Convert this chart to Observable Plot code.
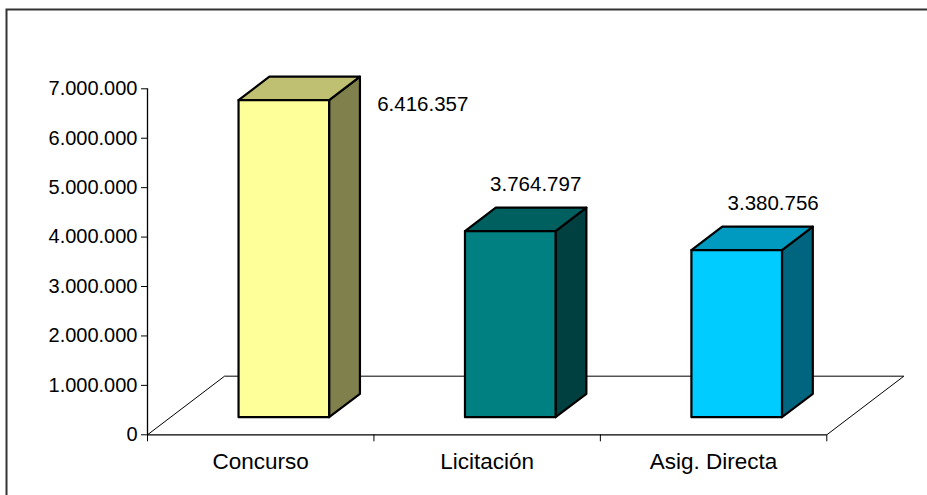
<!DOCTYPE html>
<html>
<head>
<meta charset="utf-8">
<script src="https://cdn.jsdelivr.net/npm/d3@7"></script>
<script src="https://cdn.jsdelivr.net/npm/@observablehq/plot@0.6"></script>
<style>
  html, body { margin: 0; padding: 0; background: #fff; }
  #chart { width: 927px; height: 495px; overflow: hidden; }
</style>
</head>
<body>
<div id="chart"></div>
<script>
// ---- data ----
const categories = ["Concurso", "Licitación", "Asig. Directa"];
const values = [6416357, 3764797, 3380756];
const yTicks = [0, 1000000, 2000000, 3000000, 4000000, 5000000, 6000000, 7000000];
const xBoundaryTicks = [0, 1, 2, 3];

// ---- styles ----
const frontColors = ["#FFFF99", "#008080", "#00CCFF"];
const topColors   = ["#C0C073", "#006060", "#0099BF"];
const sideColors  = ["#80804D", "#004040", "#006680"];
const labelNudge  = [[85, 45], [-28.5, -6], [-17.5, -6]];

// oblique projection of the 3D floor depth into front-plane data units
const DX = 0.3403, DV = 1186000;
const T0 = 0.3, T1 = 0.7, HALF = 0.2;
const proj = (x, v, t) => ({x: x + t * DX, y: v + t * DV});
const poly = pts => [...pts, pts[0]];

const fmt = d3.formatLocale({decimal: ",", thousands: ".", grouping: [3], currency: ["$", ""]}).format(",d");

const marks = [];
marks.push(Plot.frame({stroke: "#333", strokeWidth: 2, insetLeft: -141, insetTop: -79.3, insetRight: -160, insetBottom: -120}));
// floor outline
marks.push(Plot.line([proj(0, 0, 0), proj(0, 0, 1), proj(3, 0, 1), proj(3, 0, 0)],
  {x: "x", y: "y", stroke: "black", strokeWidth: 1}));
// axes
marks.push(Plot.ruleY([0], {x1: 0, x2: 3, stroke: "black", strokeWidth: 1.3}));
marks.push(Plot.ruleX([0], {y1: 0, y2: 7000000, stroke: "black", strokeWidth: 1.3}));
marks.push(Plot.axisY({ticks: yTicks, tickFormat: fmt, tickSize: 6, tickPadding: 4, fontSize: 20, label: null}));
marks.push(Plot.axisX({ticks: xBoundaryTicks, tickSize: 7, tickFormat: () => "", label: null}));

// 3D bars
values.forEach((v, i) => {
  const c = i + 0.5, x0 = c - HALF, x1 = c + HALF;
  const common = {x: "x", y: "y", stroke: "black", strokeWidth: 2.2, strokeLinejoin: "round"};
  marks.push(Plot.line(poly([proj(x1, 0, T0), proj(x1, 0, T1), proj(x1, v, T1), proj(x1, v, T0)]),
    {...common, fill: sideColors[i]}));
  marks.push(Plot.line(poly([proj(x0, v, T0), proj(x1, v, T0), proj(x1, v, T1), proj(x0, v, T1)]),
    {...common, fill: topColors[i]}));
  marks.push(Plot.line(poly([proj(x0, 0, T0), proj(x1, 0, T0), proj(x1, v, T0), proj(x0, v, T0)]),
    {...common, fill: frontColors[i]}));
  const p = proj(c, v, 1);
  marks.push(Plot.text([fmt(v)], {x: () => p.x, y: () => p.y, text: d => d,
    dx: labelNudge[i][0], dy: labelNudge[i][1], fontSize: 20.5, fill: "black", lineAnchor: "middle"}));
});

// category labels
marks.push(Plot.text(categories, {x: (d, i) => i + 0.5, y: () => 0, text: d => d, dy: 26.5,
  fontSize: 22.5, fill: "black", lineAnchor: "middle"}));

const chart = Plot.plot({
  width: 927,
  height: 495,
  marginLeft: 147,
  marginRight: 100.7,
  marginTop: 88.3,
  marginBottom: 60.7,
  x: {type: "linear", domain: [0, 3], axis: null},
  y: {type: "linear", domain: [0, 7000000], axis: null},
  style: {fontFamily: "'Liberation Sans', Arial, sans-serif", color: "black", background: "white", overflow: "hidden"},
  marks
});
document.getElementById("chart").appendChild(chart);
</script>
</body>
</html>
